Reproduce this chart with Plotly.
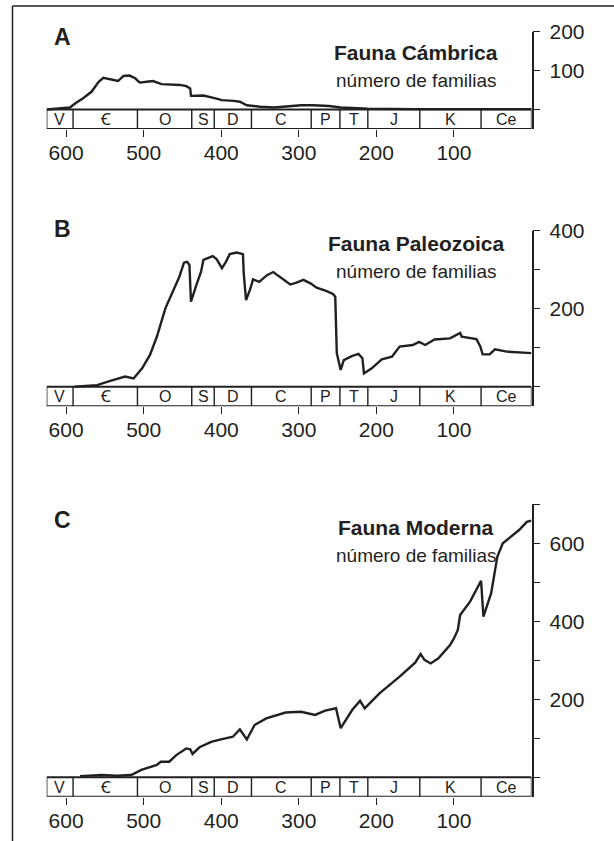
import plotly.graph_objects as go

# ---------------- data ----------------
period_names = ["V", "Ꞓ", "O", "S", "D", "C", "P", "T", "J", "K", "Ce"]
period_bounds = [625, 591, 508, 438, 409, 361, 284, 247, 211, 144, 65, 0]

x_tickvals = [600, 500, 400, 300, 200, 100]
x_ticktext = ["600", "500", "400", "300", "200", "100"]

A_ma = [625, 595, 588, 578, 567, 558, 552, 541, 533, 526, 518, 511, 505, 496, 488, 477,
        466, 453, 445, 440, 439, 432, 423, 410, 399, 384, 376, 367, 350, 332, 315, 297,
        282, 261, 246, 211, 150, 0]
A_val = [0, 5, 16, 29, 46, 71, 81, 77, 73, 86, 87, 80, 69, 71, 73, 65,
         64, 63, 60, 54, 35, 35, 36, 30, 24, 22, 20, 11, 7, 5, 8, 11,
         11, 9, 5, 2, 1, 1]

B_ma = [589, 560, 543, 524, 513, 502, 492, 483, 472, 462, 454, 448, 444, 441, 439, 432,
        426, 423, 419, 411, 406, 399, 394, 389, 380, 372, 371, 368, 363, 359, 351, 341,
        333, 322, 311, 303, 294, 285, 277, 264, 256, 253, 251, 246, 242, 231, 223, 218,
        216, 206, 193, 180, 170, 153, 145, 137, 125, 105, 92, 90, 71, 66, 63, 54,
        47, 32, 15, 0]
B_val = [0, 4, 15, 26, 21, 47, 81, 128, 201, 244, 282, 318, 320, 312, 218, 261,
         295, 325, 329, 335, 327, 304, 320, 340, 344, 340, 291, 222, 248, 275, 269, 286,
         294, 278, 262, 267, 274, 265, 254, 245, 238, 231, 86, 43, 68, 79, 84, 73,
         34, 47, 70, 77, 103, 107, 115, 107, 121, 124, 138, 128, 122, 103, 83, 83,
         96, 90, 88, 86]

C_ma = [582, 554, 534, 516, 503, 491, 483, 478, 467, 458, 445, 440, 437, 428, 413, 403,
        385, 376, 367, 357, 342, 317, 297, 279, 266, 252, 246, 231, 221, 215, 196, 170,
        150, 143, 138, 130, 120, 105, 100, 95, 92, 79, 65, 62, 52, 44, 37, 16, 6, 0]
C_val = [3, 6, 4, 6, 19, 26, 32, 40, 40, 57, 74, 72, 60, 77, 91, 96,
         104, 123, 97, 134, 151, 166, 168, 160, 171, 177, 126, 173, 196, 177, 215, 258,
         294, 316, 301, 292, 305, 339, 356, 378, 416, 451, 504, 412, 472, 566, 600, 634, 655, 658]

panel_letters = ["A", "B", "C"]
panel_titles = ["Fauna Cámbrica", "Fauna Paleozoica", "Fauna Moderna"]
panel_sub = "número de familias"
A_yticks = [0, 100, 200]
A_ylabels = ["", "100", "200"]
B_yticks = [0, 100, 200, 300, 400]
B_ylabels = ["", "", "200", "", "400"]
C_yticks = [0, 100, 200, 300, 400, 500, 600, 700]
C_ylabels = ["", "", "200", "", "400", "", "600", ""]

# ---------------- layout geometry (pixels) ----------------
W, H = 614, 841
X_LEFT, X_RIGHT = 46.7, 531.5
PX_PER_UNIT = 0.39
BOX_UNITS = 50  # height of the period strip in y units
baselines = [109.5, 386.7, 777.3]
ytops = [200, 400, 700]
letter_y = [37, 229, 519.5]
title_y = [52.5, 243.5, 527.5]
sub_y = [81, 271, 555.5]
TEXT_CX = 416
LETTER_CX = 62
INK = "#231f20"
FONT = "Liberation Sans, Arial, Noto Sans, DejaVu Sans, sans-serif"

def fx(px):
    return px / W

def fy(py):
    return 1 - py / H

series = [(A_ma, A_val), (B_ma, B_val), (C_ma, C_val)]
yticks = [(A_yticks, A_ylabels), (B_yticks, B_ylabels), (C_yticks, C_ylabels)]

fig = go.Figure()
shapes = []
annotations = []

for i in range(3):
    sfx = "" if i == 0 else str(i + 1)
    xa, ya = "x" + sfx, "y" + sfx
    ma, val = series[i]
    fig.add_trace(go.Scatter(x=ma, y=val, mode="lines", xaxis=xa, yaxis=ya,
                             line=dict(color=INK, width=2.4), showlegend=False,
                             hoverinfo="skip", cliponaxis=False))
    base = baselines[i]
    top_px = base - ytops[i] * PX_PER_UNIT
    bot_px = base + BOX_UNITS * PX_PER_UNIT
    dom = [fy(bot_px), fy(top_px)]
    fig.layout["xaxis" + sfx] = dict(
        domain=[fx(X_LEFT), fx(X_RIGHT)], range=[period_bounds[0], period_bounds[-1]],
        anchor=ya, showgrid=False, zeroline=False, showline=False, automargin=False,
        ticks="outside", ticklen=7, tickwidth=1.2, tickcolor=INK,
        tickvals=x_tickvals, ticktext=x_ticktext, ticklabelstandoff=-2,
        tickfont=dict(family=FONT, size=21, color=INK), fixedrange=True)
    tv, tt = yticks[i]
    fig.layout["yaxis" + sfx] = dict(
        domain=dom, range=[-BOX_UNITS, ytops[i]], anchor=xa, side="right",
        showgrid=False, zeroline=False, showline=True, linecolor=INK, linewidth=1.6,
        automargin=False,
        ticks="outside", ticklen=7, tickwidth=1.2, tickcolor=INK,
        tickvals=tv, ticktext=tt, ticklabelstandoff=5,
        tickfont=dict(family=FONT, size=21, color=INK), fixedrange=True)
    # period strip
    for j, name in enumerate(period_names):
        x0, x1 = period_bounds[j], period_bounds[j + 1]
        shapes.append(dict(type="line", xref=xa, yref=ya, x0=x0, x1=x0, y0=-BOX_UNITS, y1=0,
                           line=dict(color=INK, width=1.4)))
        annotations.append(dict(xref=xa, yref=ya, x=(x0 + x1) / 2, y=-BOX_UNITS / 2,
                                text=name, showarrow=False,
                                font=dict(family=FONT, size=16, color=INK),
                                xanchor="center", yanchor="middle"))
    shapes.append(dict(type="line", xref=xa, yref=ya, x0=period_bounds[-1], x1=period_bounds[-1],
                       y0=-BOX_UNITS, y1=0, line=dict(color=INK, width=1.4)))
    for yy in (0, -BOX_UNITS):
        shapes.append(dict(type="line", xref=xa, yref=ya, x0=period_bounds[0], x1=period_bounds[-1],
                           y0=yy, y1=yy, line=dict(color=INK, width=2)))
    # texts
    annotations.append(dict(xref="paper", yref="paper", x=fx(LETTER_CX), y=fy(letter_y[i]),
                            text="<b>" + panel_letters[i] + "</b>", showarrow=False,
                            font=dict(family=FONT, size=23, color=INK),
                            xanchor="center", yanchor="middle"))
    annotations.append(dict(xref="paper", yref="paper", x=fx(TEXT_CX), y=fy(title_y[i]),
                            text="<b>" + panel_titles[i] + "</b>", showarrow=False,
                            font=dict(family=FONT, size=21, color=INK),
                            xanchor="center", yanchor="middle"))
    annotations.append(dict(xref="paper", yref="paper", x=fx(TEXT_CX), y=fy(sub_y[i]),
                            text=panel_sub, showarrow=False,
                            font=dict(family=FONT, size=19, color=INK),
                            xanchor="center", yanchor="middle"))

# outer frame (left and top edges)
shapes.append(dict(type="line", xref="paper", yref="paper", x0=fx(12.5), x1=fx(12.5),
                   y0=0, y1=fy(6), line=dict(color=INK, width=1.5)))
shapes.append(dict(type="line", xref="paper", yref="paper", x0=fx(12.5), x1=1,
                   y0=fy(6), y1=fy(6), line=dict(color=INK, width=1.5)))

fig.update_layout(width=W, height=H, margin=dict(l=0, r=0, t=0, b=0, pad=0),
                  paper_bgcolor="white", plot_bgcolor="white",
                  shapes=shapes, annotations=annotations,
                  font=dict(family=FONT, color=INK))

fig.write_html("out.html")
